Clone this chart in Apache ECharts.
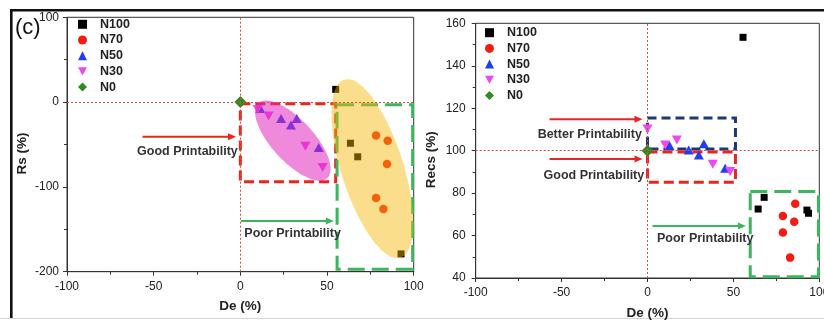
<!DOCTYPE html>
<html>
<head>
<meta charset="utf-8">
<script src="https://cdn.jsdelivr.net/npm/echarts@6/dist/echarts.min.js"></script>
<style>
  html, body { margin: 0; padding: 0; background: #fff; }
  #chart { width: 824px; height: 320px; }
</style>
</head>
<body>
<div id="chart"></div>
<script>
// ---- data ----------------------------------------------------------------
const seriesNames = ['N100', 'N70', 'N50', 'N30', 'N0'];
const deTicks = [-100, -50, 0, 50, 100];
const rsTicks = [-200, -100, 0, 100];
const recsTicks = [40, 60, 80, 100, 120, 140, 160];

// Rs (%) against De (%)
const rsN100 = [[55, 15], [63.5, -48.5], [67.7, -64.5], [92.7, -179]];
const rsN70  = [[78.3, -39.3], [85, -45.6], [84.6, -73], [78.3, -113], [82.5, -126]];
const rsN50  = [[11.5, -7.5], [23.5, -19.2], [32.5, -19.2], [29.2, -27], [45.2, -53.4]];
const rsN30  = [[10, -8.6], [16.3, -16.5], [37.5, -52], [47.5, -77]];
const rsN0   = [[0, 0]];

// Recs (%) against De (%)
const recsN100 = [[55.6, 153.4], [64.4, 72.5], [67.9, 78], [92.8, 72], [93.7, 70.5]];
const recsN70  = [[86, 75], [78.8, 69.2], [85.4, 66.5], [78.8, 61.4], [83, 49.6]];
const recsN50  = [[12.8, 102.4], [24, 100.3], [29.9, 98], [32.8, 103.2], [45.2, 91.7]];
const recsN30  = [[0, 110.2], [10.3, 102.7], [17.1, 105], [38, 93.6], [48.1, 90.2]];
const recsN0   = [[0, 100]];

// printability regions: [De1, v1, De2, v2]
const rsGoodRegion = [0, -2, 55, -94];
const rsPoorRegion = [55.8, -3, 99.4, -197];
const recsBetterRegion = [0, 100.8, 51.2, 115.4];
const recsGoodRegion = [0, 85.1, 51.2, 99.4];
const recsPoorRegion = [59.8, 40.6, 99.5, 80.7];

// clusters: major-axis end points in data units
const rsCluster30 = [[10.4, -1.2], [50.2, -89.6]];
const rsCluster100 = [[59.9, 26.5], [92.4, -183.4]];

// arrows: [De1, v1, De2, v2]
const rsGoodArrow = [-56.4, -41, -2.5, -41];
const rsPoorArrow = [0.4, -140.3, 53.9, -140.3];
const recsBetterArrow = [-57, 114.8, -2.9, 114.8];
const recsGoodArrow = [-57, 96.1, -2.9, 96.1];
const recsPoorArrow = [2.9, 64.5, 57.3, 64.5];

// captions
const rsCaptions = [
  { text: 'Good Printability', at: [-1.5, -58], align: 'right' },
  { text: 'Poor Printability', at: [2.3, -154.8], align: 'left' }
];
const recsCaptions = [
  { text: 'Better Printability', at: [-3.3, 107.4], align: 'right' },
  { text: 'Good Printability', at: [-1.9, 88.2], align: 'right' },
  { text: 'Poor Printability', at: [5.5, 58.4], align: 'left' }
];

// ---- styling ---------------------------------------------------------------
const FONT = '"Liberation Sans", Arial, sans-serif';
const DOWN_TRI = 'path://M0,0L10,0L5,9Z';
const markers = {
  N100: { symbol: 'rect', size: 7, color: '#000000' },
  N70:  { symbol: 'circle', size: 8.5, color: '#f21c12' },
  N50:  { symbol: 'triangle', size: [10, 9], color: '#1f3df2' },
  N30:  { symbol: DOWN_TRI, size: [10, 9], color: '#ef48ef' },
  N0:   { symbol: 'diamond', size: 12, color: '#2f8a1f' }
};

function scatter(name, data, idx, refY) {
  const m = markers[name];
  const s = {
    type: 'scatter', name, data,
    xAxisIndex: idx, yAxisIndex: idx,
    symbol: m.symbol, symbolSize: m.size,
    itemStyle: { color: m.color, opacity: 1 },
    z: 3, silent: true
  };
  if (name === 'N0') {
    s.markLine = {
      silent: true, symbol: ['none', 'none'], animation: false,
      label: { show: false },
      lineStyle: { color: '#e04848', type: [2, 2], width: 1 },
      data: [{ xAxis: 0 }, { yAxis: refY }]
    };
  }
  return s;
}

function box(idx, region, color, dash) {
  return {
    type: 'custom', xAxisIndex: idx, yAxisIndex: idx, z: 2, silent: true, clip: false,
    data: [region],
    renderItem(params, api) {
      const p1 = api.coord([api.value(0), api.value(1)]);
      const p2 = api.coord([api.value(2), api.value(3)]);
      return {
        type: 'rect',
        shape: {
          x: Math.min(p1[0], p2[0]), y: Math.min(p1[1], p2[1]),
          width: Math.abs(p2[0] - p1[0]), height: Math.abs(p2[1] - p1[1])
        },
        style: { fill: 'none', stroke: color, lineWidth: 3, lineDash: dash }
      };
    }
  };
}

function cluster(idx, ends, ratio, fill) {
  return {
    type: 'custom', xAxisIndex: idx, yAxisIndex: idx, z: 4, silent: true, clip: false,
    data: [[ends[0][0], ends[0][1], ends[1][0], ends[1][1]]],
    renderItem(params, api) {
      const p1 = api.coord([api.value(0), api.value(1)]);
      const p2 = api.coord([api.value(2), api.value(3)]);
      const cx = (p1[0] + p2[0]) / 2, cy = (p1[1] + p2[1]) / 2;
      const a = Math.hypot(p2[0] - p1[0], p2[1] - p1[1]) / 2;
      const b = a * ratio;
      const th = Math.atan2(p2[1] - p1[1], p2[0] - p1[0]);
      const pts = [];
      for (let i = 0; i < 96; i++) {
        const t = i / 96 * Math.PI * 2;
        const ex = a * Math.cos(t), ey = b * Math.sin(t);
        pts.push([cx + ex * Math.cos(th) - ey * Math.sin(th),
                  cy + ex * Math.sin(th) + ey * Math.cos(th)]);
      }
      return { type: 'polygon', shape: { points: pts }, style: { fill } };
    }
  };
}

function arrow(idx, seg, color) {
  return {
    type: 'custom', xAxisIndex: idx, yAxisIndex: idx, z: 5, silent: true, clip: false,
    data: [seg],
    renderItem(params, api) {
      const p1 = api.coord([api.value(0), api.value(1)]);
      const p2 = api.coord([api.value(2), api.value(3)]);
      const len = Math.hypot(p2[0] - p1[0], p2[1] - p1[1]);
      const ux = (p2[0] - p1[0]) / len, uy = (p2[1] - p1[1]) / len;
      const hl = 8, hw = 3.5;
      const bx = p2[0] - ux * hl, by = p2[1] - uy * hl;
      return {
        type: 'group',
        children: [
          { type: 'line', shape: { x1: p1[0], y1: p1[1], x2: bx + ux, y2: by + uy },
            style: { stroke: color, lineWidth: 2 } },
          { type: 'polygon', shape: { points: [[p2[0], p2[1]],
              [bx - uy * hw, by + ux * hw], [bx + uy * hw, by - ux * hw]] },
            style: { fill: color } }
        ]
      };
    }
  };
}

function captions(idx, list) {
  return {
    type: 'custom', xAxisIndex: idx, yAxisIndex: idx, z: 5, silent: true, clip: false,
    data: list.map(c => c.at),
    renderItem(params, api) {
      const c = list[params.dataIndex];
      const p = api.coord([api.value(0), api.value(1)]);
      return {
        type: 'text',
        style: {
          text: c.text, x: p[0], y: p[1], align: c.align, verticalAlign: 'middle',
          fill: '#333', fontSize: 12.5, fontWeight: 'bold', fontFamily: FONT
        }
      };
    }
  };
}

function xAxis(idx) {
  return {
    type: 'value', gridIndex: idx,
    min: deTicks[0], max: deTicks[deTicks.length - 1], interval: deTicks[1] - deTicks[0],
    name: 'De (%)', nameLocation: 'middle', nameGap: 28,
    nameTextStyle: { fontSize: 13.5, fontWeight: 'bold', color: '#222', fontFamily: FONT },
    axisLine: { show: true, onZero: false, lineStyle: { color: '#333', width: 1 } },
    axisTick: { show: true, length: 4, lineStyle: { color: '#333' } },
    minorTick: { show: true, splitNumber: 2, length: 3, lineStyle: { color: '#333' } },
    splitLine: { show: false },
    axisLabel: { fontSize: 12, color: '#222', margin: 9, fontFamily: FONT }
  };
}

function yAxis(idx, ticks, name, gap, margin) {
  return {
    type: 'value', gridIndex: idx,
    min: ticks[0], max: ticks[ticks.length - 1], interval: ticks[1] - ticks[0],
    name, nameLocation: 'middle', nameGap: gap,
    nameTextStyle: { fontSize: 13.5, fontWeight: 'bold', color: '#222', fontFamily: FONT,
                     padding: [0, 18, 0, 0] },
    axisLine: { show: true, onZero: false, lineStyle: { color: '#333', width: 1 } },
    axisTick: { show: true, length: 4, lineStyle: { color: '#333' } },
    minorTick: { show: true, splitNumber: 2, length: 3, lineStyle: { color: '#333' } },
    splitLine: { show: false },
    axisLabel: { fontSize: 12, color: '#222', margin, fontFamily: FONT }
  };
}

function legend(left, top) {
  return {
    data: seriesNames, orient: 'vertical', left, top, padding: 0,
    itemWidth: 9, itemHeight: 9, itemGap: 0.7, selectedMode: false,
    textStyle: { fontSize: 12.5, fontWeight: 'bold', color: '#222', lineHeight: 15,
                 padding: [0, 0, 0, 8], fontFamily: FONT }
  };
}

const rsSets = { N100: rsN100, N70: rsN70, N50: rsN50, N30: rsN30, N0: rsN0 };
const recsSets = { N100: recsN100, N70: recsN70, N50: recsN50, N30: recsN30, N0: recsN0 };

const RED = '#e8261e', GREEN = '#3cb55c', NAVY = '#1d3876';

const series = [
  box(0, rsGoodRegion, RED, [10, 5]),
  box(0, rsPoorRegion, GREEN, [17, 7]),
  box(1, recsBetterRegion, NAVY, [9, 5]),
  box(1, recsGoodRegion, RED, [10, 5]),
  box(1, recsPoorRegion, GREEN, [17, 7]),
  ...seriesNames.map(n => scatter(n, rsSets[n], 0, 0)),
  ...seriesNames.map(n => scatter(n, recsSets[n], 1, 100)),
  cluster(0, rsCluster30, 0.41, 'rgba(225,40,190,0.55)'),
  cluster(0, rsCluster100, 0.333, 'rgba(246,182,0,0.45)'),
  arrow(0, rsGoodArrow, RED),
  arrow(0, rsPoorArrow, GREEN),
  arrow(1, recsBetterArrow, RED),
  arrow(1, recsGoodArrow, RED),
  arrow(1, recsPoorArrow, GREEN),
  captions(0, rsCaptions),
  captions(1, recsCaptions)
];

const chart = echarts.init(document.getElementById('chart'), null, { renderer: 'canvas' });
chart.setOption({
  animation: false,
  backgroundColor: '#ffffff',
  grid: [
    { left: 67, top: 17.3, width: 346.7, height: 254.4, show: true, outerBoundsMode: 'none',
      containLabel: false, borderColor: '#333', borderWidth: 1, backgroundColor: 'transparent' },
    { left: 475.7, top: 23.3, width: 343.6, height: 254.7, show: true, outerBoundsMode: 'none',
      containLabel: false, borderColor: '#333', borderWidth: 1, backgroundColor: 'transparent' }
  ],
  xAxis: [xAxis(0), xAxis(1)],
  yAxis: [yAxis(0, rsTicks, 'Rs (%)', 38, 8), yAxis(1, recsTicks, 'Recs (%)', 37, 10)],
  legend: [legend(78, 16.8), legend(485, 25.2)],
  graphic: [
    { type: 'rect', shape: { x: 10, y: 9, width: 814, height: 2.6 }, style: { fill: '#111' } },
    { type: 'rect', shape: { x: 10, y: 9, width: 2.6, height: 309 }, style: { fill: '#111' } },
    { type: 'rect', shape: { x: 0, y: 318, width: 824, height: 1 }, style: { fill: '#d4d4d4' } },
    { type: 'text', left: 15, top: 17,
      style: { text: '(c)', fontSize: 22, fill: '#111', fontFamily: FONT } }
  ],
  series
});
</script>
</body>
</html>
